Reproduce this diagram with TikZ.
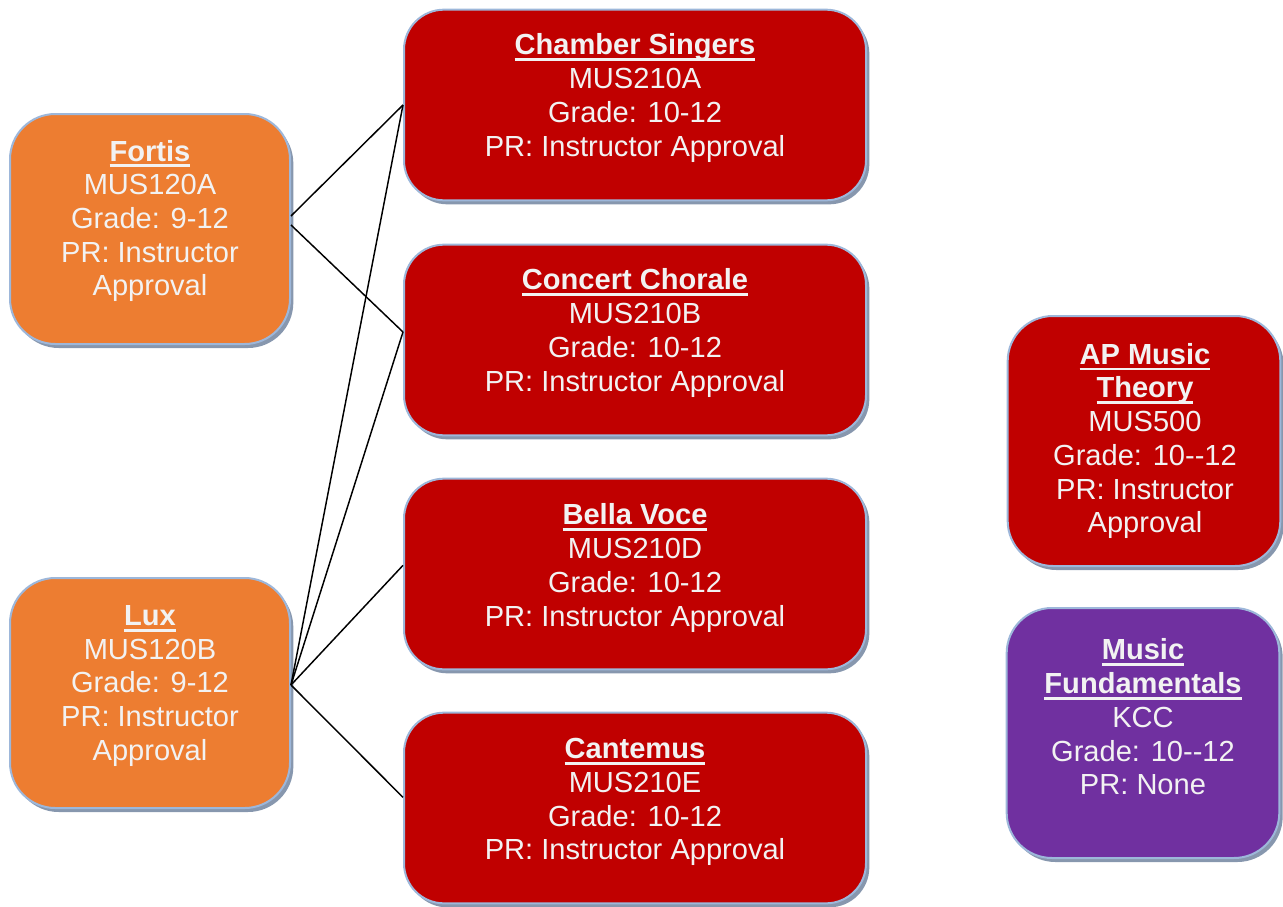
\documentclass[tikz,border=0pt]{standalone}
\usepackage{fontspec}
\setmainfont{Liberation Sans}
\usetikzlibrary{shadows}

\definecolor{boxred}{HTML}{C00000}
\definecolor{boxorange}{HTML}{ED7D31}
\definecolor{boxpurple}{HTML}{7030A0}
\definecolor{rimblue}{HTML}{9DB7DA}
\definecolor{shadowblue}{HTML}{8797AE}
\definecolor{boxtext}{HTML}{F2F2F2}

% bold title with a heavy underline
\newcommand{\headline}[1]{\leavevmode\setbox0\hbox{\textbf{#1}}%
  \rlap{\rule[-4.5pt]{\wd0}{2pt}}\box0}

\begin{document}
\begin{tikzpicture}[
  x=0.75pt, y=-0.75pt,
  course/.style={draw=rimblue, line width=1.5pt,
    drop shadow={shadow xshift=2.5pt, shadow yshift=-3pt,
      fill=shadowblue, opacity=1}},
  redbox/.style={course, fill=boxred, rounded corners=30pt,
    minimum width=346.5pt, minimum height=143pt},
  orangebox/.style={course, fill=boxorange, rounded corners=34pt,
    minimum width=210pt, minimum height=172.5pt},
  sidebox/.style={course, rounded corners=34pt,
    minimum width=204.5pt, minimum height=187.5pt},
  txt/.style={text=boxtext, align=center,
    font=\fontsize{21.8}{25.3}\selectfont},
  link/.style={draw=black, line width=1.1pt}
]
  \useasboundingbox (0,0) rectangle (1283,907);

  % ensembles
  \node[redbox] (cs) at (635,105) {};
  \node[redbox] (cc) at (635,340) {};
  \node[redbox] (bv) at (635,574) {};
  \node[redbox] (ct) at (635,808) {};

  \node[txt] (cs-t) at (635,98)  {\headline{Chamber Singers}\\MUS210A\\Grade: 10-12\\PR: Instructor Approval};
  \node[txt] (cc-t) at (635,333) {\headline{Concert Chorale}\\MUS210B\\Grade: 10-12\\PR: Instructor Approval};
  \node[txt] (bv-t) at (635,568) {\headline{Bella Voce}\\MUS210D\\Grade: 10-12\\PR: Instructor Approval};
  \node[txt] (ct-t) at (635,802) {\headline{Cantemus}\\MUS210E\\Grade: 10-12\\PR: Instructor Approval};

  % entry choirs
  \node[orangebox] (fortis) at (150,229) {};
  \node[orangebox] (lux)    at (150,693) {};

  \node[txt] (fortis-t) at (150,221) {\headline{Fortis}\\MUS120A\\Grade: 9-12\\PR: Instructor\\Approval};
  \node[txt] (lux-t)    at (150,686) {\headline{Lux}\\MUS120B\\Grade: 9-12\\PR: Instructor\\Approval};

  % other courses
  \node[sidebox, fill=boxred]    (ap) at (1144,441) {};
  \node[sidebox, fill=boxpurple] (mf) at (1143,733) {};

  \node[txt] (ap-t) at (1145,441) {\headline{AP Music}\\\headline{Theory}\\MUS500\\Grade: 10-{}-12\\PR: Instructor\\Approval};
  \node[txt] (mf-t) at (1143,717) {\headline{Music}\\\headline{Fundamentals}\\KCC\\Grade: 10-{}-12\\PR: None};

  \draw[link] ([yshift=9.75pt]fortis.east) -- (cs.west);
  \draw[link] ([yshift=3pt]fortis.east) -- ([yshift=6pt]cc.west);

  \draw[link] ([yshift=6pt]lux.east) -- (cs.west);
  \draw[link] ([yshift=6pt]lux.east) -- ([yshift=6pt]cc.west);
  \draw[link] ([yshift=6pt]lux.east) -- ([yshift=6.5pt]bv.west);
  \draw[link] ([yshift=6pt]lux.east) -- ([yshift=8pt]ct.west);
\end{tikzpicture}
\end{document}
